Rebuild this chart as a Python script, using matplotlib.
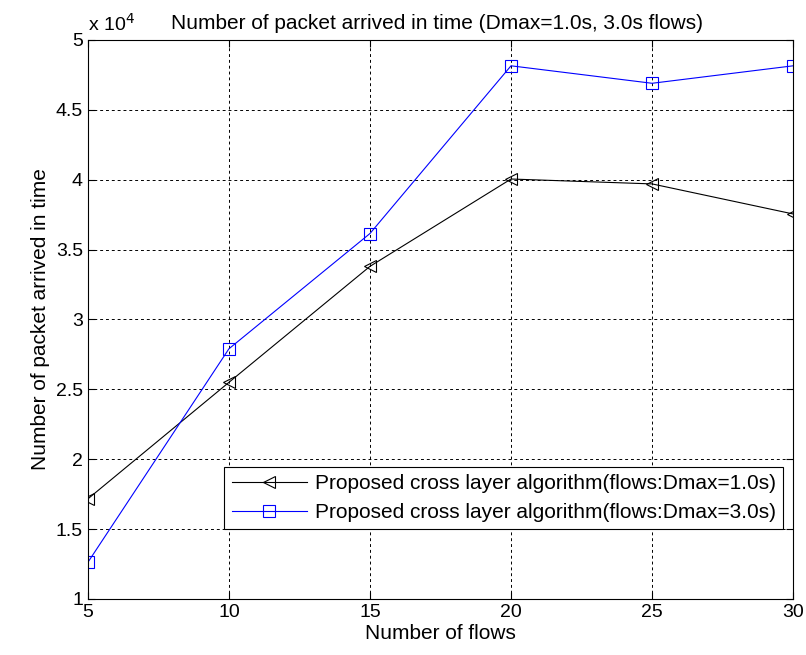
import matplotlib
matplotlib.use("Agg")
import matplotlib.pyplot as plt
from matplotlib.ticker import FuncFormatter

plt.rcParams['font.family'] = ['Liberation Sans', 'DejaVu Sans']

flows = [5, 10, 15, 20, 25, 30]
d1_packets = [17160, 25500, 33800, 40050, 39700, 37550]
d3_packets = [12620, 27900, 36150, 48150, 46900, 48150]
label_d1 = "Proposed cross layer algorithm(flows:Dmax=1.0s)"
label_d3 = "Proposed cross layer algorithm(flows:Dmax=3.0s)"

fig = plt.figure(figsize=(8.06, 6.55), dpi=100)
ax = fig.add_axes([0.109, 0.0855, 0.875, 0.8535])

ax.plot(flows, d1_packets, color="black", lw=0.8, marker="<", ms=9,
        mfc="none", mew=0.8, label=label_d1)
ax.plot(flows, d3_packets, color="blue", lw=0.8, marker="s", ms=9,
        mfc="none", mew=0.8, label=label_d3)

ax.set_xlim(5, 30)
ax.set_ylim(10000, 50000)
ax.set_xticks(flows)
ax.set_yticks([10000 + 5000 * i for i in range(9)])
ax.yaxis.set_major_formatter(FuncFormatter(lambda v, p: "%g" % (v / 1e4)))
ax.grid(True, color="black", linestyle=(0, (3, 3)), linewidth=0.7)
ax.tick_params(direction="in", labelsize=14, length=5, top=True, right=True)

ax.set_xlabel("Number of flows", fontsize=15, labelpad=2)
ax.set_ylabel("Number of packet arrived in time", fontsize=15, labelpad=4)
ax.set_title("Number of packet arrived in time (Dmax=1.0s, 3.0s flows)",
             fontsize=15, x=0.495, pad=8)
ax.text(0.0, 1.01, r"x 10$^4$", transform=ax.transAxes, fontsize=14,
        ha="left", va="bottom")

leg = ax.legend(loc="lower right", bbox_to_anchor=(0.986, 0.125), fontsize=15,
                fancybox=False, framealpha=1, edgecolor="black",
                borderpad=0.35, handlelength=3.6, handletextpad=0.4,
                labelspacing=0.45, borderaxespad=0)
leg.get_frame().set_linewidth(0.8)

fig.savefig("out.png", dpi=100)
